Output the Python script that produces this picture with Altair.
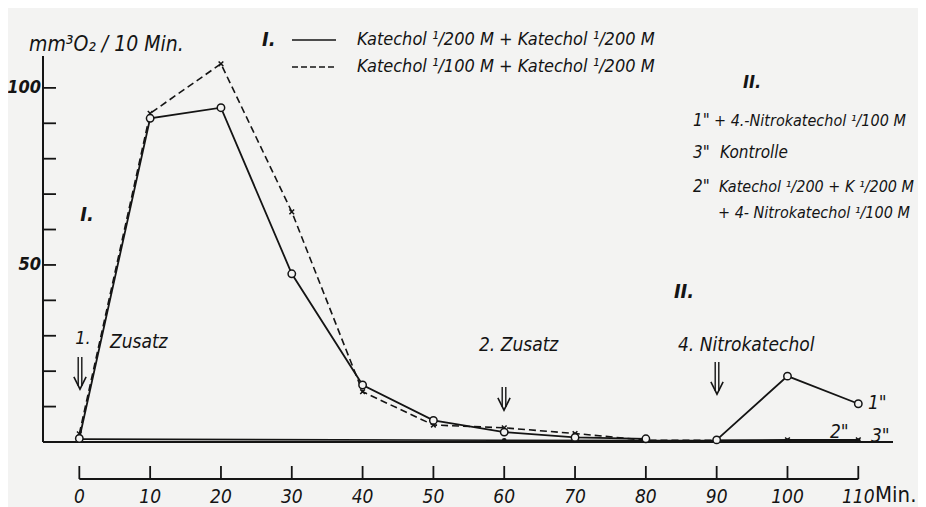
import altair as alt
import pandas as pd

# ---------------- data ----------------
t_I = [0, 10, 20, 30, 40, 50, 60, 70, 80]
v_I_solid = [1.0, 91.4, 94.4, 47.5, 16.1, 6.1, 2.8, 1.3, 0.9]     # Katechol 1/200 + 1/200 (circles)
t_I_dash = [0, 10, 20, 30, 40, 50, 60, 70, 80, 90]
v_I_dash = [2.3, 92.8, 106.8, 65.0, 14.2, 4.8, 4.0, 2.4, 0.5, 0.5]  # Katechol 1/100 + 1/200 (crosses)
mark_I_dash = [True, True, True, True, True, True, True, True, True, False]

t_II = [90, 100, 110]
v_1pp = [0.6, 18.6, 10.8]   # 1"  + 4-Nitrokatechol
v_2pp = [0.5, 0.6, 0.6]     # 2"
t_ctrl = [0, 60, 80, 90, 100, 110]
v_ctrl = [0.8, 0.5, 0.4, 0.4, 0.4, 0.4]   # 3" Kontrolle

x_ticks = [0, 10, 20, 30, 40, 50, 60, 70, 80, 90, 100, 110]
y_ticks = [10, 20, 30, 40, 50, 60, 70, 80, 90, 100]
y_labels = [50, 100]

# ---------------- layout ----------------
W, H = 850, 386
X_DOM = [-5.13, 114.9]
Y_DOM = [0, 109]
FONT = "DejaVu Sans Condensed, DejaVu Sans, sans-serif"
INK = "#141414"
BG = "#f3f3f2"
xs = alt.Scale(domain=X_DOM, nice=False, zero=False)
ys = alt.Scale(domain=Y_DOM, nice=False, zero=False)

df_solid = pd.DataFrame({"t": t_I, "v": v_I_solid})
df_dash = pd.DataFrame({"t": t_I_dash, "v": v_I_dash, "m": mark_I_dash})
df_1 = pd.DataFrame({"t": t_II, "v": v_1pp})
df_2 = pd.DataFrame({"t": t_II, "v": v_2pp})
df_c = pd.DataFrame({"t": t_ctrl, "v": v_ctrl})
df_xt = pd.DataFrame({"t": x_ticks, "lab": [str(x) for x in x_ticks]})
df_yt = pd.DataFrame({"v": y_ticks})
df_yl = pd.DataFrame({"v": y_labels, "lab": [str(y) for y in y_labels]})
df_base = pd.DataFrame({"v": [0], "t": [x_ticks[0]], "t2": [x_ticks[-1]]})
df_one = pd.DataFrame({"k": [0]})

X = lambda: alt.X("t:Q", scale=xs, axis=None)
Y = lambda: alt.Y("v:Q", scale=ys, axis=None)
XMARK = "M -1 -1 L 1 1 M -1 1 L 1 -1"
VHEAD = "M -1 -1 L 0 1 L 1 -1"

layers = []
# control line 3"
layers.append(alt.Chart(df_c).mark_line(color=INK, strokeWidth=1.6).encode(x=X(), y=Y()))
layers.append(alt.Chart(df_c).mark_point(filled=True, color=INK, size=22, opacity=1).encode(x=X(), y=Y()))
# baseline (y = 0)
layers.append(alt.Chart(df_base).mark_rule(color=INK, strokeWidth=2).encode(
    x=alt.value(0), x2=alt.value(W), y=Y()))
# y axis line
layers.append(alt.Chart(df_one).mark_rule(color=INK, strokeWidth=2).encode(
    x=alt.value(0), y=alt.value(0), y2=alt.value(H)))
# y ticks (inward)
layers.append(alt.Chart(df_yt).mark_rule(color=INK, strokeWidth=1.8).encode(
    x=alt.value(0), x2=alt.value(13), y=Y()))
layers.append(alt.Chart(df_yl).mark_text(align="right", baseline="middle", font=FONT, fontSize=18,
                                          fontStyle="italic", fontWeight=600, color=INK, dx=-2).encode(
    x=alt.value(0), y=Y(), text="lab:N"))
# series I
layers.append(alt.Chart(df_dash).mark_line(color=INK, strokeWidth=1.6, strokeDash=[7, 4]).encode(x=X(), y=Y()))
layers.append(alt.Chart(df_dash[df_dash.m]).mark_point(shape=XMARK, color=INK, size=22, strokeWidth=1.5,
                                                        filled=False, opacity=1).encode(x=X(), y=Y()))
layers.append(alt.Chart(df_solid).mark_line(color=INK, strokeWidth=1.8).encode(x=X(), y=Y()))
layers.append(alt.Chart(df_solid).mark_point(shape="circle", color=INK, fill=BG, filled=False,
                                              size=55, strokeWidth=1.5, opacity=1).encode(x=X(), y=Y()))
# series II
layers.append(alt.Chart(df_2).mark_line(color=INK, strokeWidth=1.6).encode(x=X(), y=Y()))
layers.append(alt.Chart(df_2).mark_point(shape=XMARK, color=INK, size=22, strokeWidth=1.5,
                                          filled=False, opacity=1).encode(x=X(), y=Y()))
layers.append(alt.Chart(df_1).mark_line(color=INK, strokeWidth=1.8).encode(x=X(), y=Y()))
layers.append(alt.Chart(df_1).mark_point(shape="circle", color=INK, fill=BG, filled=False,
                                          size=55, strokeWidth=1.5, opacity=1).encode(x=X(), y=Y()))

# separate bottom axis
AX_Y = 423
layers.append(alt.Chart(df_base).mark_rule(color=INK, strokeWidth=2).encode(
    x=X(), x2="t2:Q", y=alt.value(AX_Y)))
layers.append(alt.Chart(df_xt).mark_rule(color=INK, strokeWidth=1.8).encode(
    x=X(), y=alt.value(AX_Y - 13), y2=alt.value(AX_Y)))
layers.append(alt.Chart(df_xt).mark_text(align="center", baseline="middle", font=FONT, fontSize=19,
                                          fontStyle="italic", color=INK).encode(
    x=X(), y=alt.value(AX_Y + 18), text="lab:N"))

# annotations (pixel positions in the plot area)
def txt(s, x, y, size=18, align="left", font=FONT, style="italic", weight="normal"):
    return alt.Chart(df_one).mark_text(text=s, align=align, baseline="middle", font=font,
                                       fontSize=size, fontStyle=style, fontWeight=weight,
                                       color=INK).encode(x=alt.value(x), y=alt.value(y))

def seg(x1, x2, y, dash=None):
    kw = dict(color=INK, strokeWidth=1.6)
    if dash:
        kw["strokeDash"] = dash
    return alt.Chart(df_one).mark_rule(**kw).encode(x=alt.value(x1), x2=alt.value(x2), y=alt.value(y))

def arrow(x, top, tip):
    out = []
    for dx in (-1.8, 1.8):
        out.append(alt.Chart(df_one).mark_rule(color=INK, strokeWidth=1.4).encode(
            x=alt.value(x + dx), y=alt.value(top), y2=alt.value(tip - 3)))
    out.append(alt.Chart(df_one).mark_point(shape=VHEAD, size=150, filled=False, color=INK,
                                            strokeWidth=1.6, opacity=1).encode(
        x=alt.value(x), y=alt.value(tip - 6)))
    return out

layers += [
    txt("mm³O₂ / 10 Min.", -14, -11, size=21),
    txt("I.", 219, -16, size=20, weight="bold"),
    seg(249, 293, -16),
    txt("Katechol ¹/200 M + Katechol ¹/200 M", 314, -16, size=18),
    seg(249, 293, 11, dash=[6, 3]),
    txt("Katechol ¹/100 M + Katechol ¹/200 M", 314, 11, size=18),
    txt("II.", 709, 27, size=18, align="center", weight="bold"),
    txt("1\"", 650, 65, size=17),
    txt("+ 4.-Nitrokatechol ¹/100 M", 671, 65, size=16),
    txt("3\"", 650, 97, size=17),
    txt("Kontrolle", 677, 97, size=17),
    txt("2\"", 650, 131, size=17),
    txt("Katechol ¹/200 + K ¹/200 M", 676, 131, size=16),
    txt("+ 4- Nitrokatechol ¹/100 M", 675, 157, size=16),
    txt("I.", 44, 159, size=20, align="center", weight="bold"),
    txt("II.", 641, 236, size=20, align="center", weight="bold"),
    txt("1.", 40, 283, size=18, align="center"),
    txt("Zusatz", 67, 286, size=19),
    txt("2. Zusatz", 436, 289, size=19),
    txt("4. Nitrokatechol", 635, 289, size=19),
    txt("1\"", 825, 347, size=19),
    txt("2\"", 787, 376, size=19),
    txt("3\"", 828, 380, size=19),
    txt("Min.", 832, 439, size=22, style="normal"),
]
layers += arrow(37, 301, 333)
layers += arrow(461, 331, 354)
layers += arrow(674, 306, 338)

chart = alt.layer(*layers).properties(
    width=W, height=H,
    autosize=alt.AutoSizeParams(type="none"),
    padding={"left": 35, "top": 48, "right": 25, "bottom": 65},
    background=BG,
).configure_view(stroke=None)

chart.save("out.html", embed_options={"renderer": "svg", "actions": False})
